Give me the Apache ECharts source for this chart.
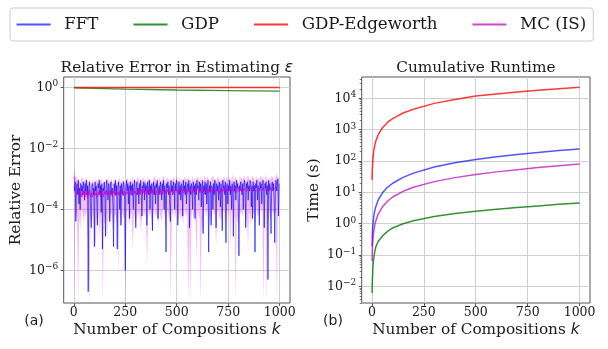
<!DOCTYPE html>
<html><head><meta charset="utf-8">
<script src="https://cdn.jsdelivr.net/npm/echarts@6/dist/echarts.min.js"></script>
<style>html,body{margin:0;padding:0;background:#fff}#c{width:608px;height:349px}</style>
</head><body><div id="c"></div>
<script>
// ---------------- DATA ----------------
const seriesNames = ['FFT', 'GDP', 'GDP-Edgeworth', 'MC (IS)'];

// Left panel: relative error, one sample every 3 compositions starting at k = 1
const errKStart = 1, errKStep = 3;
const fftErr = [
 6e-4,4e-4,8e-4,4e-5,5e-4,7e-4,3e-4,9e-4,1.5e-4,5e-4,
 1e-4,7e-4,4e-4,6e-4,3e-4,8e-4,5e-4,2e-4,7e-4,4e-4,
 9e-4,3e-4,6e-4,2e-7,5e-4,8e-4,4e-4,1e-4,2.5e-5,6e-4,
 7e-4,3e-4,5e-4,6e-6,8e-4,4e-4,6e-4,1.5e-4,3e-5,7e-4,
 5e-4,9e-4,3e-4,6e-4,8e-5,7e-4,5e-6,5e-4,4e-4,8e-4,
 3e-4,1.3e-5,6e-4,9e-4,4e-4,2e-4,7e-4,5e-4,4e-5,6e-4,
 8e-4,3e-4,5e-4,1.2e-4,6e-6,7e-4,4e-4,9e-4,3e-4,6e-4,
 5e-6,5e-4,8e-4,4e-4,1e-4,6e-4,3e-5,7e-4,5e-4,3e-4,
 8e-4,6e-4,2e-4,1e-6,5e-4,9e-4,4e-4,7e-4,1.5e-4,6e-4,
 5e-5,8e-4,4e-4,6e-4,3e-4,7e-4,1e-4,5e-4,9e-4,4e-4,
 2.5e-5,6e-4,8e-4,3e-4,5e-4,1.5e-4,7e-4,4e-4,9e-4,3e-4,
 6e-5,6e-4,5e-4,8e-4,2e-4,7e-4,4e-4,6e-4,3e-5,8e-4,
 5e-4,3e-4,9e-4,1e-4,6e-4,4e-4,7e-4,2e-5,5e-4,8e-4,
 3e-4,6e-4,1.5e-4,7e-4,5e-4,9e-4,5e-5,4e-4,6e-4,3e-4,
 8e-4,5e-4,2e-4,7e-4,4e-4,9e-4,1e-4,6e-4,3e-4,4e-6,
 7e-4,5e-4,8e-4,3e-4,6e-4,1.5e-4,4e-5,9e-4,4e-4,6e-4,
 3e-4,8e-4,5e-4,1e-4,7e-4,4e-4,9e-4,6e-4,3e-5,5e-4,
 8e-4,3e-4,6e-4,2e-4,7e-4,5e-4,6e-5,9e-4,4e-4,6e-4,
 3e-4,8e-4,1.5e-4,5e-4,7e-4,4e-4,9e-4,2.5e-5,6e-4,3e-4,
 7e-4,5e-4,1e-4,8e-4,4e-4,6e-4,5e-5,7e-4,3e-4,9e-4,
 5e-4,6e-4,2e-4,8e-4,4e-4,7e-4,1.2e-4,5e-4,9e-4,1.6e-5,
 6e-4,4e-4,8e-4,3e-4,7e-4,1.5e-4,5e-4,9e-4,4e-6,6e-4,
 4e-4,8e-4,3e-5,6e-4,5e-4,1e-4,7e-4,3e-4,9e-4,5e-4,
 2.5e-5,7e-4,4e-4,6e-4,2e-4,8e-4,5e-4,1.2e-4,7e-4,4e-4,
 2e-5,9e-4,5e-4,6e-4,3e-4,8e-4,8e-6,5e-4,7e-4,1.5e-4,
 6e-4,4e-4,9e-4,3e-4,6e-4,1e-4,7e-4,5e-4,1.3e-5,8e-4,
 4e-4,6e-4,2e-4,9e-4,5e-4,7e-4,1.5e-4,3e-6,6e-4,4e-4,
 8e-4,5e-4,3e-4,7e-4,1e-4,6e-4,9e-4,4e-4,2.5e-5,7e-4,
 5e-4,8e-4,2e-4,6e-4,4e-4,9e-4,7e-4,1.2e-4,6e-4,5e-5,
 8e-4,4e-4,6e-4,4e-6,7e-4,5e-4,9e-4,2e-4,6e-4,4e-4,
 3e-5,8e-4,5e-4,7e-4,1.5e-4,6e-4,9e-4,4e-4,2.5e-5,7e-4,
 5e-4,8e-4,3e-4,6e-4,5e-7,9e-4,4e-4,7e-4,1.2e-4,1.6e-5,
 6e-4,8e-4,4e-4,7e-4,2e-4,8e-6,5e-4,9e-4,4e-4,6e-4,
 1e-3,6e-5,7e-4
];
const mcErr = [
 1.2e-3,7e-4,5e-4,4e-4,3.5e-4,4.5e-4,3e-4,4e-4,5e-4,3.5e-4,
 3e-4,4e-4,3.5e-4,2.5e-4,4.5e-4,3e-4,4e-4,3.5e-4,2.5e-4,4e-4,
 3e-4,3.5e-4,2.2e-4,4e-4,3e-4,4.5e-4,3e-4,2.5e-4,3.5e-4,4e-4,
 2.5e-4,3.5e-4,3e-4,4.5e-4,2.8e-4,3.5e-4,4e-4,3e-4,2.5e-4,3.8e-4,
 3e-4,4.2e-4,3.5e-4,2.5e-4,3.8e-4,3e-4,4.5e-4,3.2e-4,2.6e-4,3.8e-4,
 3.2e-4,4e-4,3e-4,4.5e-4,3.5e-4,2.8e-4,4e-4,3.5e-4,3e-4,4.2e-4,
 3e-4,3.8e-4,2.6e-4,4e-4,3.4e-4,4.6e-4,3e-4,3.8e-4,2.8e-4,4e-4,
 3.5e-4,4.5e-4,3e-4,3.8e-4,2.8e-4,4.2e-4,3.5e-4,4.8e-4,3.2e-4,3.8e-4,
 2.8e-4,4e-4,3.5e-4,4.6e-4,3e-4,3.8e-4,4.2e-4,3.2e-4,4.8e-4,3.5e-4,
 4e-4,3e-4,4.5e-4,3.5e-4,2.8e-4,4.2e-4,3.8e-4,5e-4,3.2e-4,4e-4,
 3.5e-4,4.6e-4,3e-4,4e-4,3.5e-4,5e-4,3.2e-4,4.2e-4,3e-4,4.5e-4,
 3.8e-4,3.2e-4,4.8e-4,3.5e-4,4.2e-4,3e-4,4.5e-4,3.8e-4,3.2e-4,4.6e-4,
 3.5e-4,4.2e-4,3e-4,5e-4,3.8e-4,3.2e-4,4.5e-4,3.5e-4,4.8e-4,3.2e-4,
 4e-4,3.5e-4,4.6e-4,3e-4,4.2e-4,3.8e-4,5e-4,3.4e-4,4e-4,3.2e-4,
 4.5e-4,3.5e-4,4e-4,3e-4,4.8e-4,3.8e-4,3.2e-4,4.5e-4,3.6e-4,4.2e-4,
 3.2e-4,4.6e-4,3.8e-4,5e-4,3.4e-4,4e-4,3e-4,4.5e-4,3.8e-4,4.2e-4,
 3.5e-4,4.8e-4,3.2e-4,4e-4,4.5e-4,3.5e-4,5.2e-4,3.6e-4,4.2e-4,3.2e-4,
 4.5e-4,3.8e-4,4.2e-4,3.2e-4,5e-4,4e-4,3.5e-4,4.6e-4,3.4e-4,4.2e-4,
 3.6e-4,4.8e-4,4e-4,3.2e-4,4.5e-4,3.8e-4,5e-4,3.5e-4,4.2e-4,3.8e-4,
 4.6e-4,3.4e-4,4.2e-4,5e-4,3.6e-4,4.4e-4,3.2e-4,4.8e-4,4e-4,3.6e-4,
 4.4e-4,3.8e-4,5.2e-4,3.5e-4,4.2e-4,4.6e-4,3.4e-4,4e-4,5e-4,3.6e-4,
 4.2e-4,3.2e-4,4.8e-4,4e-4,3.6e-4,5e-4,4.2e-4,3.4e-4,4.6e-4,3.8e-4,
 5e-4,3.6e-4,4.4e-4,3.8e-4,4.8e-4,3.4e-4,4.2e-4,5.2e-4,3.8e-4,4.4e-4,
 3.5e-4,4.6e-4,4e-4,5e-4,3.6e-4,4.2e-4,3.2e-4,4.8e-4,4.2e-4,3.8e-4,
 4.6e-4,3.6e-4,5.2e-4,4e-4,4.4e-4,3.4e-4,4.8e-4,4.2e-4,3.6e-4,5e-4,
 4e-4,4.6e-4,3.6e-4,4.2e-4,5.2e-4,3.8e-4,4.4e-4,3.5e-4,4.8e-4,4.2e-4,
 3.8e-4,5e-4,4.2e-4,3.6e-4,4.6e-4,4e-4,5.4e-4,3.8e-4,4.4e-4,3.6e-4,
 4.8e-4,4.2e-4,3.8e-4,5.2e-4,4e-4,4.6e-4,3.5e-4,4.4e-4,5e-4,3.8e-4,
 4.4e-4,3.6e-4,5e-4,4.2e-4,4.8e-4,3.8e-4,4.4e-4,5.4e-4,4e-4,4.6e-4,
 3.8e-4,4.8e-4,4.2e-4,5.2e-4,3.6e-4,4.4e-4,5e-4,4e-4,4.6e-4,3.8e-4,
 5e-4,4.2e-4,4.6e-4,3.8e-4,5.4e-4,4.4e-4,4e-4,4.8e-4,3.8e-4,5.2e-4,
 4.2e-4,4.6e-4,3.8e-4,5e-4,4.4e-4,5.6e-4,4e-4,4.6e-4,5.2e-4,4.2e-4,
 4.8e-4,4e-4,5.4e-4,4.4e-4,4.8e-4,3.8e-4,5.2e-4,4.6e-4,5.8e-4,4.4e-4,
 5e-4,4.6e-4,4.2e-4
];
// MC (IS) interval, one sample every 5 compositions; 0 = lower bound not positive (band runs off the bottom)
const bandKStart = 1, bandKStep = 5;
const mcErrLow = [
 0,1e-4,5e-5,8e-5,0,6e-5,2e-5,8e-5,1e-4,4e-5,
 8e-5,5e-5,1e-4,6e-5,1e-6,0,5e-5,3e-5,8e-5,5e-5,
 2e-5,4e-6,6e-5,3e-5,8e-5,1e-5,6e-5,8e-5,0,5e-5,
 3e-5,8e-5,8e-6,1e-4,3e-5,5e-5,8e-5,6e-5,2e-5,5e-5,
 8e-5,5e-5,3e-5,7e-7,1e-4,5e-5,3e-5,8e-5,5e-5,6e-5,
 0,6e-5,1e-4,5e-5,3e-5,8e-5,6e-5,5e-6,5e-5,7e-5,
 3e-5,6e-5,1e-4,5e-5,8e-5,2e-5,5e-5,1e-4,6e-5,8e-5,
 5e-5,1.1e-6,1e-4,6e-5,8e-5,5e-5,2e-5,8e-5,1.2e-4,6e-5,
 8e-5,5e-5,3e-5,1e-4,6e-5,4e-5,8e-5,1.2e-4,6e-5,2e-5,
 7e-5,1e-4,6e-5,5e-5,0,8e-5,6e-5,1.2e-4,5e-5,8e-5,
 1e-4,4e-5,6e-5,8e-5,4e-5,8e-5,3e-5,1.2e-4,6e-5,8e-5,
 6e-5,0,3e-5,0,5e-5,1.2e-4,4e-5,8e-5,5e-5,2e-6,
 1e-4,7e-5,5e-5,0,4e-5,2e-5,7e-5,1.2e-4,6e-5,8e-5,
 1e-4,3e-5,7e-5,4e-5,8e-5,1.2e-4,6e-5,8e-5,6e-6,7e-5,
 1e-4,6e-5,4e-5,8e-5,3e-5,8e-5,1.2e-4,2e-5,7e-5,1e-4,
 6e-5,1e-4,5e-6,8e-5,1.2e-4,3e-5,7e-5,0,6e-5,4e-5,
 3e-5,1e-4,7e-5,8e-5,6e-5,1.2e-4,8e-5,3e-5,7e-5,5e-6,
 8e-5,6e-5,3e-5,1.2e-4,8e-5,7e-5,3e-5,1.2e-4,6e-5,8e-5,
 5e-5,1.2e-4,8e-5,1e-4,0,5e-5,1.3e-4,0,6e-5,4e-5,
 1e-4,5e-5,1.2e-4,8e-5,8e-5,6e-5,1e-4,0,8e-5,7e-5
];
const mcErrHigh = [
 2.2e-3,1.5e-3,1e-3,1.2e-3,8e-4,1e-3,7e-4,1e-3,1.2e-3,8e-4,
 1e-3,8e-4,1.1e-3,9e-4,6e-4,1e-3,8e-4,7e-4,1e-3,8e-4,
 6e-4,1e-3,9e-4,7e-4,1.1e-3,8e-4,9e-4,1e-3,6e-4,8e-4,
 7e-4,1e-3,8e-4,1.1e-3,7e-4,8e-4,1e-3,9e-4,6e-4,8e-4,
 1e-3,8e-4,7e-4,9e-4,1.1e-3,8e-4,7e-4,1e-3,8e-4,9e-4,
 6e-4,9e-4,1.1e-3,8e-4,7e-4,1e-3,8e-4,1.2e-3,8e-4,1e-3,
 8e-4,9e-4,1.2e-3,8e-4,1e-3,7e-4,8e-4,1.2e-3,9e-4,1e-3,
 8e-4,7e-4,1.1e-3,9e-4,1e-3,8e-4,7e-4,1e-3,1.3e-3,9e-4,
 1e-3,8e-4,7e-4,1.1e-3,9e-4,8e-4,1e-3,1.3e-3,9e-4,7e-4,
 1e-3,1.1e-3,9e-4,8e-4,7e-4,1e-3,9e-4,1.3e-3,8e-4,1e-3,
 1.2e-3,8e-4,9e-4,1.1e-3,8e-4,1e-3,8e-4,1.3e-3,9e-4,1.1e-3,
 9e-4,1.2e-3,7e-4,1e-3,8e-4,1.3e-3,8e-4,1.1e-3,8e-4,1e-3,
 1.2e-3,1e-3,8e-4,1.2e-3,8e-4,7e-4,1e-3,1.3e-3,9e-4,1e-3,
 1.2e-3,7e-4,1e-3,8e-4,1.1e-3,1.3e-3,9e-4,1e-3,8e-4,1e-3,
 1.2e-3,9e-4,8e-4,1.1e-3,8e-4,1e-3,1.3e-3,8e-4,1e-3,1.2e-3,
 9e-4,1.2e-3,8e-4,1e-3,1.4e-3,8e-4,1e-3,1.2e-3,9e-4,8e-4,
 7e-4,1.2e-3,1e-3,1.1e-3,9e-4,1.3e-3,1.1e-3,8e-4,1e-3,1.3e-3,
 1e-3,9e-4,8e-4,1.3e-3,1.1e-3,1e-3,8e-4,1.3e-3,9e-4,1.1e-3,
 8e-4,1.3e-3,1e-3,1.2e-3,1e-3,8e-4,1.4e-3,1.1e-3,9e-4,8e-4,
 1.2e-3,9e-4,1.3e-3,1.1e-3,1e-3,9e-4,1.2e-3,1.5e-3,1.1e-3,1e-3
];
const gdpErrK = [1, 50, 100, 250, 500, 750, 1000];
const gdpErr = [0.97, 0.95, 0.93, 0.88, 0.82, 0.78, 0.75];
const gdpEdgErr = [0.99, 0.99, 0.99, 0.99, 0.99, 0.99, 0.99];

// Right panel: cumulative runtime (s)
const rtK = [1,2,3,5,7,10,15,20,30,50,75,100,150,200,300,400,500,600,700,800,900,1000];
const rtFFT = [0.19,0.38,0.57,0.95,1.3,1.9,2.8,3.7,5.6,9.5,14.5,19.5,30,41,64,88,112,136,162,188,215,242];
const rtGDP = [0.0062,0.013,0.02,0.04,0.06,0.09,0.14,0.19,0.27,0.4,0.57,0.73,1.0,1.25,1.7,2.1,2.5,2.9,3.3,3.7,4.15,4.6];
const rtGDPE = [25,48,70,115,160,230,340,450,680,1130,1700,2250,3400,4500,6900,9200,11800,13800,16000,18200,20300,22500];
const rtMC = [0.063,0.13,0.19,0.32,0.45,0.65,0.98,1.3,2.0,3.4,5.2,7.1,10.8,14.5,22,29.5,37,45,53,62,71,80];

// Tick labels
const xTicks = [0, 250, 500, 750, 1000];
const errTickExp = [-6, -4, -2, 0];
const rtTickExp = [-2, -1, 0, 1, 2, 3, 4];

// ---------------- STYLE / LAYOUT ----------------
const SERIF = "'DejaVu Serif'";
const SANS = "'DejaVu Sans'";
const TXT = '#1a1a1a';
const GRIDC = '#cfcfcf';
const FRAME = '#555555';
const COL = {
  'FFT': 'rgba(0,0,255,0.68)',
  'GDP': 'rgba(0,120,0,0.8)',
  'GDP-Edgeworth': 'rgba(255,0,0,0.78)',
  'MC (IS)': 'rgba(191,0,191,0.72)'
};
const BAND = 'rgba(215,0,215,0.28)';

const panels = [
  {left: 63.7, top: 77, width: 226.3, height: 226, xr: [-49, 1050], yr: [-7.07, 0.34], ticks: errTickExp,
   title: '{n|Relative Error in Estimating }{e|ε}', cx: 176.85, yName: 'Relative Error', yNameGap: 38.5, tag: '(a)', tagX: 34},
  {left: 361.7, top: 77, width: 228.3, height: 226, xr: [-49, 1050], yr: [-2.53, 4.68], ticks: rtTickExp,
   title: 'Cumulative Runtime', cx: 475.85, yName: 'Time (s)', yNameGap: 39, tag: '(b)', tagX: 333}
];

const supLabel = v => {
  const e = Math.round(v);
  return '{b|10}{s|' + (e < 0 ? '\u2212' + (-e) : String(e)) + '}';
};
const labelRich = {
  b: {fontFamily: SERIF, fontSize: 12.5, color: TXT, lineHeight: 16},
  s: {fontFamily: SERIF, fontSize: 9, color: TXT, lineHeight: 9, verticalAlign: 'top'}
};
const nameStyle = {fontFamily: SERIF, fontSize: 15.3, color: TXT, lineHeight: 18,
  rich: {it: {fontFamily: SANS, fontStyle: 'italic', fontSize: 15.3, color: TXT, lineHeight: 18}}};

const grid = [], xAxis = [], yAxis = [], title = [], graphic = [];
panels.forEach((p, pi) => {
  const sx = p.width / (p.xr[1] - p.xr[0]);
  const sy = p.height / (p.yr[1] - p.yr[0]);
  const t = p.ticks;
  grid.push({left: p.left, top: p.top, width: p.width, height: p.height, show: true,
    borderColor: FRAME, borderWidth: 1, backgroundColor: 'transparent', containLabel: false, outerBoundsMode: 'none'});
  grid.push({left: p.left + (xTicks[0] - p.xr[0]) * sx, width: (xTicks[xTicks.length - 1] - xTicks[0]) * sx,
    top: p.top, height: p.height, containLabel: false, outerBoundsMode: 'none'});
  grid.push({left: p.left, width: p.width, top: p.top + (p.yr[1] - t[t.length - 1]) * sy,
    height: (t[t.length - 1] - t[0]) * sy, containLabel: false, outerBoundsMode: 'none'});
  const g0 = pi * 3;
  xAxis.push({gridIndex: g0, type: 'value', min: p.xr[0], max: p.xr[1], position: 'bottom',
    axisLine: {show: false, onZero: false}, axisTick: {show: false}, axisLabel: {show: false}, splitLine: {show: false},
    name: 'Number of Compositions {it|k}', nameLocation: 'middle', nameGap: 18, nameTextStyle: nameStyle});
  xAxis.push({gridIndex: g0 + 1, type: 'value', min: xTicks[0], max: xTicks[xTicks.length - 1],
    interval: xTicks[1] - xTicks[0], position: 'bottom',
    axisLine: {show: false, onZero: false}, axisTick: {show: true, length: 3, lineStyle: {color: FRAME, width: 1}},
    axisLabel: {show: true, margin: 3.5, fontFamily: SERIF, fontSize: 12.5, color: TXT, lineHeight: 13,
      formatter: v => String(v)},
    splitLine: {show: true, lineStyle: {color: GRIDC, width: 1}}});
  xAxis.push({gridIndex: g0 + 2, type: 'value', min: 0, max: 1, show: false, axisLine: {onZero: false}});
  yAxis.push({gridIndex: g0, type: 'log', logBase: 10, min: Math.pow(10, p.yr[0]), max: Math.pow(10, p.yr[1]),
    position: 'left', axisLine: {show: false, onZero: false}, axisTick: {show: false}, axisLabel: {show: false},
    splitLine: {show: false}, minorTick: {show: false}, minorSplitLine: {show: false},
    name: p.yName, nameLocation: 'middle', nameGap: p.yNameGap, nameTextStyle: nameStyle});
  yAxis.push({gridIndex: g0 + 1, type: 'value', min: 0, max: 1, show: false, axisLine: {onZero: false}});
  yAxis.push({gridIndex: g0 + 2, type: 'value', min: t[0], max: t[t.length - 1], interval: t[1] - t[0], position: 'left',
    axisLine: {show: false, onZero: false}, axisTick: {show: true, length: 3, lineStyle: {color: FRAME, width: 1}},
    axisLabel: {show: true, margin: 5.5, formatter: supLabel, rich: labelRich},
    splitLine: {show: true, lineStyle: {color: GRIDC, width: 1}}});
  title.push({text: p.title, left: p.cx, top: 59.5, textAlign: 'center', padding: 0,
    textStyle: {fontFamily: SERIF, fontSize: 15.3, fontWeight: 'normal', color: TXT, lineHeight: 18,
      rich: {n: {fontFamily: SERIF, fontSize: 15.3, color: TXT, lineHeight: 18},
             e: {fontFamily: SANS, fontStyle: 'italic', fontSize: 15.3, color: TXT, lineHeight: 18}}}});
  graphic.push({type: 'text', x: p.tagX, y: 321, silent: true,
    style: {text: p.tag, font: '14px ' + SANS, fill: TXT, align: 'center', verticalAlign: 'middle',
      textAlign: 'center', textVerticalAlign: 'middle'}});
});

// minor log ticks on the runtime axis (right panel)
const minorExp = [];
for (let d = -3; d <= 4; d++) for (let m = 2; m <= 9; m++) {
  const e = d + Math.log10(m);
  if (e > panels[1].yr[0] && e < panels[1].yr[1]) minorExp.push(e);
}
yAxis.push({gridIndex: 3, type: 'value', min: panels[1].yr[0], max: panels[1].yr[1], position: 'left',
  axisLine: {show: false, onZero: false},
  axisTick: {show: true, length: 2, customValues: minorExp, lineStyle: {color: FRAME, width: 0.8}},
  axisLabel: {show: false}, splitLine: {show: false}});

// ---------------- SERIES ----------------
const kOf = i => errKStart + i * errKStep;
const bkOf = i => bandKStart + i * bandKStep;
const bandData = [];
for (let i = 0; i + 1 < Math.min(mcErrLow.length, mcErrHigh.length); i++) {
  bandData.push([bkOf(i), bkOf(i + 1), mcErrLow[i], mcErrLow[i + 1], mcErrHigh[i], mcErrHigh[i + 1]]);
}
const lineSeries = (name, xi, yi, data, width) => ({
  type: 'line', name, xAxisIndex: xi, yAxisIndex: yi, data, color: COL[name],
  showSymbol: false, symbol: 'none', animation: false, silent: true,
  lineStyle: {color: COL[name], width}
});
const zip = (ks, vs) => vs.map((v, i) => [ks[i], v]);

const series = [
  {type: 'custom', name: 'MC (IS) interval', xAxisIndex: 0, yAxisIndex: 0, data: bandData, silent: true,
   encode: {x: [0, 1], y: [4, 5]}, clip: true, animation: false,
   renderItem: function (params, api) {
     const cs = params.coordSys;
     const bottom = cs.y + cs.height;
     const x0 = api.value(0), x1 = api.value(1);
     const l0 = api.value(2), l1 = api.value(3), h0 = api.value(4), h1 = api.value(5);
     const pa = api.coord([x0, h0]), pb = api.coord([x1, h1]);
     const low = (x, v) => v > 0 ? Math.min(api.coord([x, v])[1], bottom) : bottom;
     return {type: 'polygon', silent: true,
       shape: {points: [pa, pb, [pb[0], low(x1, l1)], [pa[0], low(x0, l0)]]},
       style: {fill: BAND, stroke: null}};
   }},
  lineSeries('FFT', 0, 0, fftErr.map((v, i) => [kOf(i), v]), 0.9),
  lineSeries('MC (IS)', 0, 0, mcErr.map((v, i) => [kOf(i), v]), 0.9),
  lineSeries('GDP', 0, 0, zip(gdpErrK, gdpErr), 1.3),
  lineSeries('GDP-Edgeworth', 0, 0, zip(gdpErrK, gdpEdgErr), 1.5),
  lineSeries('FFT', 3, 3, zip(rtK, rtFFT), 1.5),
  lineSeries('GDP', 3, 3, zip(rtK, rtGDP), 1.5),
  lineSeries('GDP-Edgeworth', 3, 3, zip(rtK, rtGDPE), 1.5),
  lineSeries('MC (IS)', 3, 3, zip(rtK, rtMC), 1.5)
];

const chart = echarts.init(document.getElementById('c'), null, {renderer: 'canvas'});
chart.setOption({
  animation: false,
  backgroundColor: '#ffffff',
  textStyle: {fontFamily: SERIF},
  title, grid, xAxis, yAxis, series, graphic,
  legend: {
    data: seriesNames, left: 10, top: 8, orient: 'horizontal',
    padding: [6.5, 7, 6.5, 6.6], itemGap: 35, itemWidth: 42.6, itemHeight: 2,
    icon: 'path://M0 0H34V2H0Z M42.6 0H42.61V2H42.6Z',
    borderColor: '#cccccc', borderWidth: 1, borderRadius: 3, backgroundColor: '#ffffff',
    textStyle: {fontFamily: SERIF, fontSize: 16.7, color: TXT, lineHeight: 20},
    selectedMode: false
  }
});
</script></body></html>
